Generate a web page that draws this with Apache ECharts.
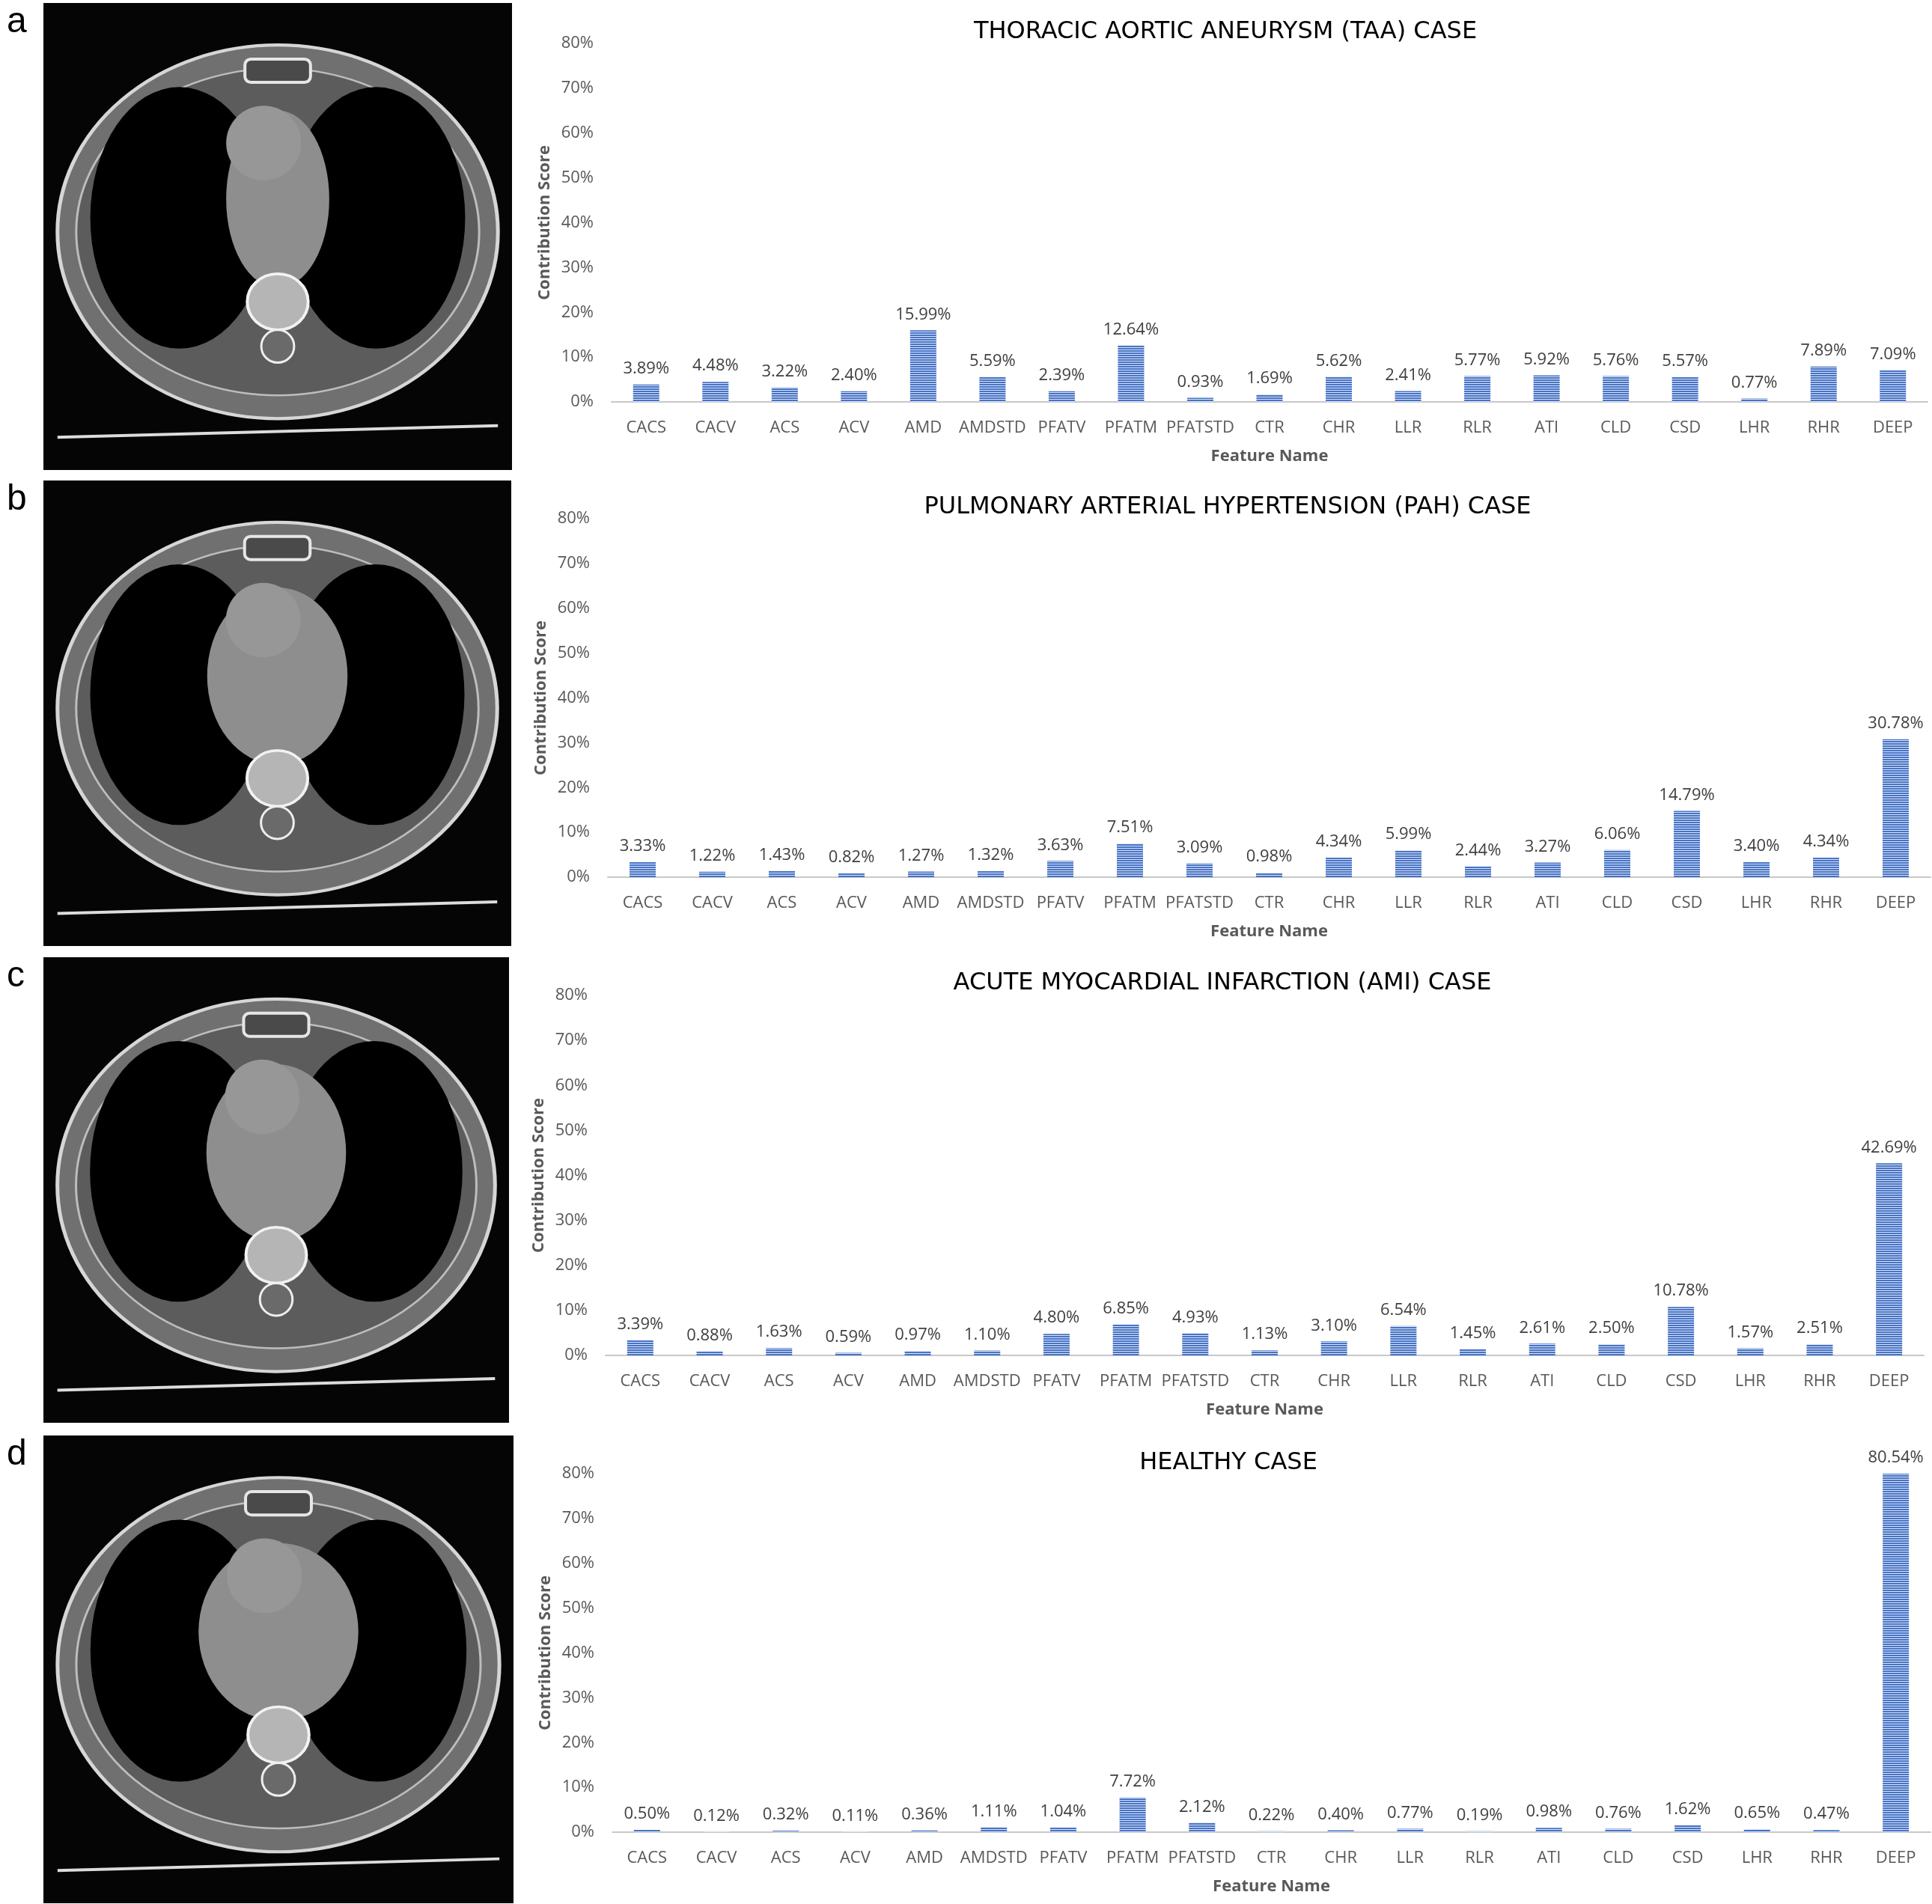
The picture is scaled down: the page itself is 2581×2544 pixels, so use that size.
<!DOCTYPE html>
<html>
<head>
    <meta charset="utf-8">
    <style>
        body{
            margin: 0;
            background: #fff;
        }
        #chart-container{
            width: 2581px;
            height: 2544px;
        }
    </style>
</head>
<body>
    <div id="chart-container"></div>

    <script type="text/javascript" src="https://cdn.jsdelivr.net/npm/echarts@6.0.0/dist/echarts.min.js"></script>
    <script type="text/javascript">
        // feature names on the x axis (same for every case)
        var features = ['CACS', 'CACV', 'ACS', 'ACV', 'AMD', 'AMDSTD', 'PFATV', 'PFATM', 'PFATSTD', 'CTR',
                        'CHR', 'LLR', 'RLR', 'ATI', 'CLD', 'CSD', 'LHR', 'RHR', 'DEEP'];

        // contribution scores in percent
        var taaScores = [3.89, 4.48, 3.22, 2.40, 15.99, 5.59, 2.39, 12.64, 0.93, 1.69,
                         5.62, 2.41, 5.77, 5.92, 5.76, 5.57, 0.77, 7.89, 7.09];
        var pahScores = [3.33, 1.22, 1.43, 0.82, 1.27, 1.32, 3.63, 7.51, 3.09, 0.98,
                         4.34, 5.99, 2.44, 3.27, 6.06, 14.79, 3.40, 4.34, 30.78];
        var amiScores = [3.39, 0.88, 1.63, 0.59, 0.97, 1.10, 4.80, 6.85, 4.93, 1.13,
                         3.10, 6.54, 1.45, 2.61, 2.50, 10.78, 1.57, 2.51, 42.69];
        var healthyScores = [0.50, 0.12, 0.32, 0.11, 0.36, 1.11, 1.04, 7.72, 2.12, 0.22,
                             0.40, 0.77, 0.19, 0.98, 0.76, 1.62, 0.65, 0.47, 80.54];

        var caseTitles = ['THORACIC AORTIC ANEURYSM (TAA) CASE',
                          'PULMONARY ARTERIAL HYPERTENSION (PAH) CASE',
                          'ACUTE MYOCARDIAL INFARCTION (AMI) CASE',
                          'HEALTHY CASE'];
        var panelLetters = ['a', 'b', 'c', 'd'];

        // y axis range (percent)
        var yMin = 0, yMax = 80, yStep = 10;

        var scores = [taaScores, pahScores, amiScores, healthyScores];

        // layout of each row: plot box, title centre and CT picture box
        var rows = [
            {left: 817, top: 58,   width: 1758, height: 479, titleX: 1637, titleY: 43,   ct: [58, 4, 626, 624]},
            {left: 812, top: 693,  width: 1767, height: 479, titleX: 1640, titleY: 678,  ct: [58, 642, 625, 622]},
            {left: 809, top: 1330, width: 1761, height: 481, titleX: 1633, titleY: 1314, ct: [58, 1279, 622, 622]},
            {left: 818, top: 1969, width: 1761, height: 479, titleX: 1641, titleY: 1955, ct: [58, 1918, 628, 625]}
        ];

        var textFont = '"Open Sans", "DejaVu Sans", sans-serif';

        // striped fill like the original bars
        function stripePattern() {
            var c = document.createElement('canvas');
            c.width = 4;
            c.height = 3;
            var g = c.getContext('2d');
            g.fillStyle = '#4673c6';
            g.fillRect(0, 0, 4, 3);
            g.fillStyle = '#dbe4f5';
            g.fillRect(0, 2, 4, 1);
            return c;
        }
        var barFill = {image: stripePattern(), repeat: 'repeat'};

        // ellipse made from a scaled circle
        function blob(cx, cy, rx, ry, fill, stroke, lw) {
            return {
                type: 'circle', silent: true,
                x: cx, y: cy, scaleY: ry / rx,
                shape: {cx: 0, cy: 0, r: rx},
                style: {fill: fill, stroke: stroke || null, lineWidth: lw || 0}
            };
        }

        // rough stand-in for the CT slice
        function ctSlice(box, i) {
            var x = box[0], y = box[1], w = box[2], h = box[3];
            var cx = x + w / 2;
            var heart = [0.11, 0.15, 0.15, 0.17][i];
            return [
                {type: 'rect', silent: true, shape: {x: x, y: y, width: w, height: h}, style: {fill: '#050505'}},
                blob(cx, y + h * 0.49, w * 0.47, h * 0.40, '#707070', '#d6d6d6', 5),
                blob(cx, y + h * 0.49, w * 0.43, h * 0.35, '#5c5c5c', '#bdbdbd', 3),
                blob(x + w * 0.29, y + h * 0.46, w * 0.19, h * 0.28, '#000'),
                blob(x + w * 0.71, y + h * 0.46, w * 0.19, h * 0.28, '#000'),
                blob(cx, y + h * 0.42, w * heart, h * 0.19, '#8e8e8e'),
                blob(cx - w * 0.03, y + h * 0.30, w * 0.08, h * 0.08, '#979797'),
                {type: 'rect', silent: true, shape: {x: cx - w * 0.07, y: y + h * 0.12, width: w * 0.14, height: h * 0.05, r: 8},
                    style: {fill: '#4a4a4a', stroke: '#e6e6e6', lineWidth: 4}},
                blob(cx, y + h * 0.64, w * 0.065, h * 0.06, '#b5b5b5', '#f2f2f2', 4),
                blob(cx, y + h * 0.735, w * 0.035, h * 0.035, '#6a6a6a', '#eeeeee', 3),
                {type: 'line', silent: true, shape: {x1: x + w * 0.03, y1: y + h * 0.93, x2: x + w * 0.97, y2: y + h * 0.905},
                    style: {stroke: '#dcdcdc', lineWidth: 4}}
            ];
        }

        var chartDom = document.getElementById('chart-container');
        var myChart = echarts.init(chartDom, null, {renderer: 'canvas'});

        var option = {
            animation: false,
            backgroundColor: '#ffffff',
            title: [],
            grid: [],
            xAxis: [],
            yAxis: [],
            series: [],
            graphic: []
        };

        rows.forEach(function (r, i) {
            option.title.push({
                text: caseTitles[i],
                left: r.titleX - 5,
                top: r.titleY - 5,
                textAlign: 'center',
                textVerticalAlign: 'middle',
                textStyle: {fontFamily: '"DejaVu Sans", sans-serif', fontSize: 32, fontWeight: 'normal', color: '#000'}
            });
            option.grid.push({
                left: r.left, top: r.top, width: r.width, height: r.height,
                containLabel: false, outerBoundsMode: 'none'
            });
            option.xAxis.push({
                type: 'category', gridIndex: i, data: features,
                axisTick: {show: false},
                axisLine: {lineStyle: {color: '#c8c8c8', width: 2}},
                axisLabel: {interval: 0, fontFamily: textFont, fontSize: 22, color: '#595959', margin: 24},
                name: 'Feature Name', nameLocation: 'middle', nameGap: 62,
                nameTextStyle: {fontFamily: textFont, fontSize: 22, fontWeight: 'bold', color: '#595959'}
            });
            option.yAxis.push({
                type: 'value', gridIndex: i, min: yMin, max: yMax, interval: yStep,
                splitLine: {show: false},
                axisLine: {show: false},
                axisTick: {show: false},
                axisLabel: {formatter: '{value}%', fontFamily: textFont, fontSize: 22, color: '#595959', margin: 24},
                name: 'Contribution Score', nameLocation: 'middle', nameGap: 78,
                nameTextStyle: {fontFamily: textFont, fontSize: 22, fontWeight: 'bold', color: '#595959'}
            });
            option.series.push({
                type: 'bar', xAxisIndex: i, yAxisIndex: i,
                data: scores[i],
                barWidth: 35,
                itemStyle: {color: barFill},
                label: {
                    show: true, position: 'top', distance: 10,
                    fontFamily: textFont, fontSize: 22, color: '#404040',
                    formatter: function (p) { return p.value.toFixed(2) + '%'; }
                }
            });
            option.graphic = option.graphic.concat(ctSlice(r.ct, i));
            option.graphic.push({
                type: 'text', silent: true,
                x: 9, y: r.ct[1] + 50,
                style: {text: panelLetters[i], font: '48px "Liberation Sans", Arial, sans-serif',
                        fill: '#000', verticalAlign: 'bottom'}
            });
        });

        myChart.setOption(option);
    </script>
</body>
</html>
